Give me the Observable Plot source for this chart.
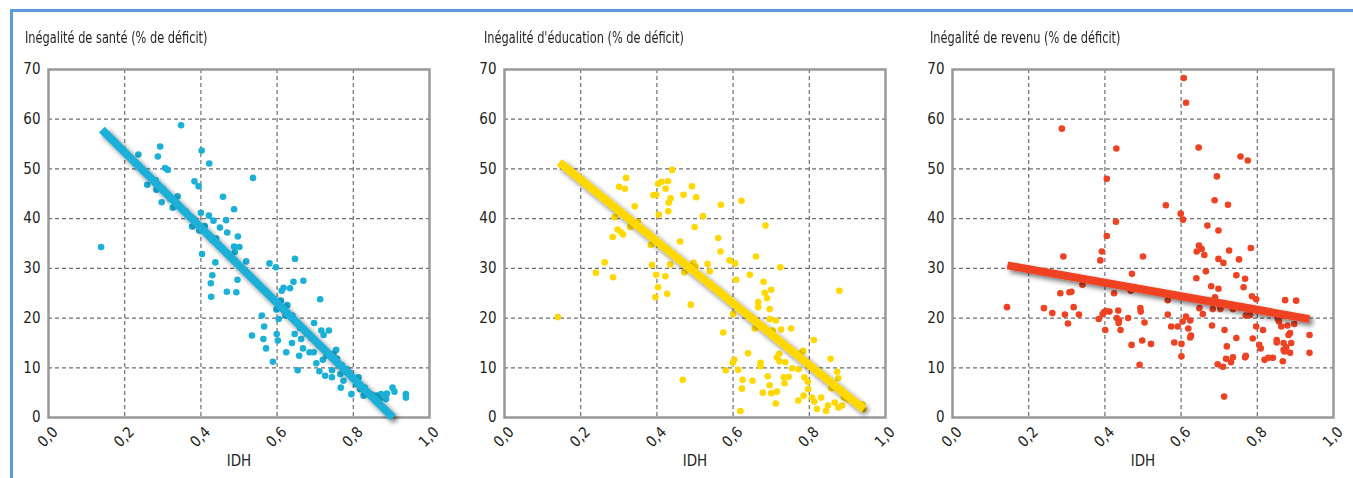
<!DOCTYPE html>
<html><head><meta charset="utf-8">
<script src="https://cdn.jsdelivr.net/npm/d3@7"></script>
<script src="https://cdn.jsdelivr.net/npm/@observablehq/plot@0.6"></script>
<style>
html,body{margin:0;padding:0;background:#fff;}
#wrap{position:relative;width:1353px;height:478px;overflow:hidden;background:#fff;}
#border{position:absolute;left:10px;top:9px;right:-5px;bottom:-5px;border-left:3px solid #5d9bd8;border-top:3px solid #5d9bd8;}
.ttl{position:absolute;top:28px;font-family:"DejaVu Sans Condensed","Liberation Sans Narrow",sans-serif;font-size:16px;color:#231f20;white-space:nowrap;transform:scaleX(0.79);transform-origin:0 0;}
.pn{position:absolute;top:0;}
</style></head>
<body><div id="wrap"><div id="border"></div></div>
<script>
// ---- data ----
const titles = ["Inégalité de santé (% de déficit)", "Inégalité d'éducation (% de déficit)", "Inégalité de revenu (% de déficit)"];
const xLabel = "IDH";
const xTicks = [0, 0.2, 0.4, 0.6, 0.8, 1.0];
const yTicks = [0, 10, 20, 30, 40, 50, 60, 70];
const colors = ["#1ab0d8", "#ffd800", "#ee4223"];

const santeIDH = [0.138,0.236,0.259,0.287,0.293,0.281,0.283,0.297,0.306,0.313,0.326,0.339,0.348,0.383,0.394,0.402,0.422,0.400,0.377,0.396,0.403,0.421,0.433,0.430,0.438,0.430,0.426,0.427,0.450,0.458,0.466,0.469,0.487,0.497,0.487,0.501,0.489,0.496,0.493,0.468,0.519,0.537,0.534,0.560,0.566,0.564,0.571,0.589,0.580,0.597,0.599,0.602,0.604,0.598,0.612,0.617,0.624,0.634,0.643,0.647,0.669,0.622,0.627,0.639,0.646,0.654,0.658,0.663,0.668,0.678,0.685,0.697,0.696,0.703,0.711,0.713,0.716,0.722,0.736,0.720,0.726,0.744,0.744,0.755,0.767,0.766,0.774,0.783,0.795,0.808,0.814,0.818,0.827,0.844,0.862,0.873,0.886,0.888,0.903,0.908,0.938,0.938,0.757,0.748,0.27,0.30,0.32,0.36,0.38,0.41,0.44,0.47,0.61,0.62,0.64,0.66,0.69,0.71,0.73,0.77,0.79,0.81,0.83,0.85,0.87];
const santeVal = [34.3,52.9,46.8,52.5,54.5,47.7,45.8,43.3,50.2,49.8,42.2,44.5,58.8,47.5,46.5,53.7,51.1,41.2,38.4,37.6,32.9,40.6,39.6,35.7,31.2,28.6,27.0,24.3,38.2,44.4,39.7,37.2,41.9,36.4,34.4,34.3,33.3,27.7,25.2,25.3,31.4,48.2,16.5,20.5,18.3,15.8,13.9,11.2,31.0,30.2,16.8,15.5,19.8,21.7,25.5,26.1,13.1,26.0,27.3,31.9,27.5,20.5,22.6,15.0,16.8,9.5,12.4,15.8,13.9,16.8,13.1,19.0,13.1,10.9,9.3,23.8,17.5,16.6,17.5,11.6,8.4,8.1,9.5,13.6,6.0,8.7,7.4,9.7,4.7,6.7,8.1,5.7,4.4,4.7,4.4,4.7,3.7,4.8,6.0,5.2,4.7,4.0,11.8,12.8,48,46,44,41.5,40,38.5,36,33,23.5,22,20.5,18,16,14.5,12.5,10.5,9,7.5,6,4.5,3.8];

const educIDH = [0.140,0.240,0.263,0.284,0.285,0.289,0.297,0.301,0.307,0.311,0.316,0.319,0.330,0.342,0.350,0.384,0.387,0.391,0.398,0.398,0.396,0.403,0.405,0.403,0.412,0.423,0.429,0.431,0.436,0.430,0.440,0.422,0.427,0.435,0.461,0.468,0.470,0.472,0.489,0.492,0.496,0.501,0.499,0.503,0.521,0.533,0.539,0.561,0.567,0.568,0.574,0.581,0.591,0.599,0.603,0.600,0.605,0.608,0.613,0.619,0.622,0.623,0.625,0.639,0.644,0.651,0.648,0.660,0.666,0.666,0.657,0.672,0.672,0.678,0.680,0.683,0.685,0.689,0.691,0.696,0.696,0.696,0.700,0.700,0.704,0.712,0.712,0.715,0.715,0.721,0.722,0.724,0.726,0.733,0.735,0.737,0.746,0.752,0.755,0.771,0.772,0.777,0.784,0.785,0.787,0.796,0.797,0.807,0.812,0.813,0.820,0.831,0.844,0.849,0.856,0.858,0.867,0.873,0.876,0.876,0.879,0.886,0.891,0.901,0.939,0.941];
const educVal = [20.2,29.1,31.2,36.3,28.2,40.3,37.8,46.4,37.2,36.8,46.0,48.2,38.3,42.5,39.3,34.7,30.7,44.7,44.8,28.7,24.2,26.2,40.8,47.0,47.4,46.0,47.5,43.2,44.1,41.5,49.8,28.4,24.9,30.8,35.4,7.6,44.8,29.2,22.7,46.5,31.1,30.4,38.3,44.3,40.5,30.9,29.4,36.1,33.4,42.8,17.1,9.5,31.6,11.0,11.6,20.8,31.0,27.7,9.6,1.3,43.6,5.8,7.6,12.9,28.7,7.4,20.2,32.4,23.2,22.2,17.9,11.0,10.3,5.0,27.3,25.1,38.6,24.0,8.3,6.5,21.8,19.8,25.7,4.9,17.5,19.5,2.8,5.2,12.1,12.8,11.3,30.2,17.7,8.1,6.9,11.1,8.2,17.9,9.9,3.4,9.7,12.9,13.4,4.4,8.1,7.2,5.7,4.0,15.6,3.2,1.7,4.0,1.3,2.4,11.8,5.9,3.0,9.2,7.9,2.0,25.5,2.4,4.0,3.7,2.6,1.7];

const revenuIDH = [0.143,0.240,0.262,0.283,0.287,0.291,0.295,0.303,0.307,0.312,0.318,0.332,0.341,0.384,0.388,0.392,0.394,0.398,0.401,0.405,0.405,0.403,0.412,0.424,0.429,0.430,0.431,0.435,0.436,0.437,0.441,0.461,0.468,0.471,0.470,0.491,0.493,0.494,0.500,0.498,0.504,0.521,0.560,0.565,0.565,0.574,0.582,0.591,0.599,0.601,0.601,0.604,0.605,0.607,0.613,0.613,0.619,0.624,0.624,0.626,0.640,0.641,0.646,0.647,0.648,0.654,0.657,0.661,0.665,0.669,0.679,0.681,0.683,0.688,0.689,0.694,0.696,0.698,0.698,0.698,0.703,0.710,0.711,0.713,0.714,0.718,0.720,0.723,0.726,0.731,0.736,0.736,0.745,0.745,0.752,0.756,0.764,0.768,0.768,0.770,0.770,0.775,0.781,0.783,0.786,0.788,0.797,0.797,0.805,0.809,0.815,0.819,0.829,0.841,0.851,0.854,0.857,0.851,0.863,0.867,0.869,0.869,0.871,0.873,0.876,0.879,0.882,0.886,0.886,0.889,0.897,0.902,0.937,0.937];
const revenuVal = [22.2,22.0,21.0,25.0,58.1,32.4,20.7,18.9,25.2,25.3,22.2,20.7,26.7,19.8,31.6,33.4,20.8,21.2,17.6,48.0,36.5,21.4,21.3,25.0,39.4,54.1,20.0,21.5,19.0,19.5,17.6,20.0,25.5,28.9,14.6,10.6,22.0,21.3,32.4,15.5,19.1,14.8,42.7,23.6,20.7,18.3,15.1,18.3,41.0,14.8,12.3,19.3,39.8,68.3,20.3,63.3,17.9,19.5,16.1,16.5,28.0,33.4,54.3,34.6,22.0,33.9,20.8,32.7,29.4,38.6,26.4,18.5,21.8,43.7,24.2,48.5,10.7,37.6,25.9,31.9,21.8,10.2,31.1,4.2,17.6,11.8,14.3,42.8,33.6,11.1,12.1,21.8,16.0,28.6,31.8,52.5,26.2,27.9,12.1,12.4,20.5,51.7,20.6,34.1,24.4,15.9,23.8,18.3,14.6,13.9,17.6,11.6,12.0,12.0,15.1,19.8,19.3,15.6,18.3,11.3,15.0,13.6,13.3,23.6,14.1,18.5,16.6,17.0,13.0,15.0,18.8,23.5,16.6,13.0];

// trend lines (endpoints)
const santeTrendIDH = [0.140, 0.904];
const santeTrendVal = [57.9, 0.0];
const educTrendIDH = [0.144, 0.943];
const educTrendVal = [51.3, 1.7];
const revenuTrendIDH = [0.144, 0.937];
const revenuTrendVal = [30.6, 19.8];

// ---- layout ----
const FONT = '"DejaVu Sans Condensed","Liberation Sans Narrow",sans-serif';
const panels = [
  {xs: santeIDH, ys: santeVal, tx: santeTrendIDH, ty: santeTrendVal, left: 0, width: 450, mL: 48, mR: 21, tleft: 25},
  {xs: educIDH, ys: educVal, tx: educTrendIDH, ty: educTrendVal, left: 460, width: 450, mL: 44, mR: 25, tleft: 484},
  {xs: revenuIDH, ys: revenuVal, tx: revenuTrendIDH, ty: revenuTrendVal, left: 905, width: 448, mL: 47, mR: 20, tleft: 930}
];
const fmt = d => d3.format(".1f")(d).replace(".", ",");
const wrap = document.getElementById("wrap");
const NS = "http://www.w3.org/2000/svg";

panels.forEach((p, i) => {
  const pts = p.xs.map((x, k) => ({x, y: p.ys[k]}));
  const trend = p.tx.map((x, k) => ({x, y: p.ty[k]}));
  const chart = Plot.plot({
    width: p.width, height: 478,
    marginTop: 69, marginBottom: 61, marginLeft: p.mL, marginRight: p.mR,
    x: {domain: [0, 1]},
    y: {domain: [0, 70]},
    style: {fontFamily: FONT, fontSize: "15px", color: "#231f20", background: "transparent", overflow: "visible"},
    marks: [
      Plot.gridX([0.2, 0.4, 0.6, 0.8], {stroke: "#6e6e6e", strokeOpacity: 1, strokeWidth: 1.2, strokeDasharray: "4,3"}),
      Plot.gridY([10, 20, 30, 40, 50, 60], {stroke: "#6e6e6e", strokeOpacity: 1, strokeWidth: 1.2, strokeDasharray: "4,3"}),
      Plot.frame({stroke: "#999", strokeWidth: 2.5}),
      Plot.axisY(yTicks, {tickSize: 0, tickPadding: 8, tickFormat: d => String(d), label: null}),
      Plot.axisX(xTicks, {tickSize: 0, tickPadding: 8, tickRotate: -45, tickFormat: fmt, label: null, dx: 7, dy: 4}),
      Plot.text([xLabel], {frameAnchor: "bottom", dy: 48, text: d => d, fontSize: 15, fill: "#231f20"}),
      Plot.dot(pts, {x: "x", y: "y", r: 3.3, fill: colors[i], stroke: "none"}),
      Plot.line(trend, {x: "x", y: "y", stroke: colors[i], strokeWidth: 8, strokeLinecap: "butt"})
    ]
  });
  chart.classList.add("pn");
  chart.style.left = p.left + "px";
  // drop shadow filter for the trend line
  const defs = document.createElementNS(NS, "defs");
  const f = document.createElementNS(NS, "filter");
  f.setAttribute("id", "shadow" + i);
  f.setAttribute("x", "-20%"); f.setAttribute("y", "-20%");
  f.setAttribute("width", "140%"); f.setAttribute("height", "140%");
  const ds = document.createElementNS(NS, "feDropShadow");
  ds.setAttribute("dx", "3"); ds.setAttribute("dy", "3");
  ds.setAttribute("stdDeviation", "2.8");
  ds.setAttribute("flood-color", "#000"); ds.setAttribute("flood-opacity", "0.55");
  f.appendChild(ds); defs.appendChild(f);
  chart.insertBefore(defs, chart.firstChild);
  const lines = chart.querySelectorAll('g[aria-label="line"]');
  lines.forEach(g => g.setAttribute("filter", `url(#shadow${i})`));
  wrap.appendChild(chart);
  const t = document.createElement("div");
  t.className = "ttl";
  t.style.left = p.tleft + "px";
  t.textContent = titles[i];
  wrap.appendChild(t);
});
</script>
</body></html>
